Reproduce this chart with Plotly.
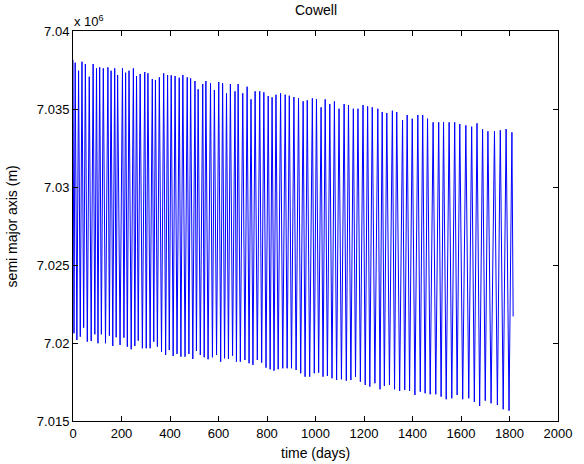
import plotly.graph_objects as go

# Peak (local maximum) times in days and values in metres
peak_days = [0, 9, 23, 37, 51, 67, 83, 97, 110, 125,
             144, 157, 172, 184, 204, 217, 231, 249, 262, 277,
             296, 309, 327, 340, 356, 374, 390, 405, 421, 438,
             453, 471, 485, 503, 516, 535, 548, 567, 583, 601,
             617, 633, 649, 668, 681, 700, 718, 734, 751, 770,
             787, 805, 821, 837, 856, 875, 892, 911, 930, 949,
             966, 987, 1004, 1023, 1040, 1059, 1078, 1097, 1118, 1136,
             1156, 1175, 1196, 1215, 1234, 1257, 1275, 1294, 1317, 1335,
             1359, 1378, 1399, 1422, 1442, 1462, 1485, 1508, 1528, 1551,
             1574, 1595, 1620, 1644, 1666, 1689, 1711, 1738, 1762, 1786,
             1810]
peak_vals = [7038140, 7037968, 7037455, 7038032, 7037885, 7037071, 7037885, 7037609, 7037673, 7037609,
             7037673, 7037455, 7037609, 7037180, 7037609, 7037327, 7037455, 7037609, 7037115, 7037244,
             7037372, 7037289, 7036923, 7036859, 7037032, 7037289, 7037180, 7037160, 7037115, 7037007,
             7037180, 7037032,
             7036968, 7036795, 7036263, 7036603, 7036795, 7036648, 7036218, 7036731, 7036648, 7036007,
             7036603, 7036135, 7036603, 7036007, 7036430, 7035622, 7036135, 7036135, 7036071, 7035833,
             7035750, 7035917, 7036007, 7035917, 7035853, 7035769, 7035686, 7035494, 7035558,
             7035686, 7035622, 7035109, 7035622, 7035321, 7035494, 7035019, 7035321, 7035257, 7035019,
             7035019, 7035257, 7035173, 7035109, 7035019, 7034808, 7034744, 7034891, 7034808, 7034295,
             7034616, 7034378, 7034616, 7034616, 7034378,
             7034148, 7034148, 7034148, 7034148, 7034148, 7034039, 7033955, 7033866, 7034084, 7033699,
             7033571, 7033571, 7033635, 7033718, 7033507]

# Trough (local minimum) times in days and values in metres
trough_days = [4, 16, 30, 44, 59, 75, 90, 103, 117, 134,
               150, 164, 178, 194, 210, 224, 240, 255, 269, 286,
               302, 318, 333, 348, 365, 382, 397, 413, 429, 445,
               462, 478, 494, 509, 525, 541, 557, 575, 592, 609,
               625, 641, 658, 674, 690, 709, 726, 742, 760, 778,
               796, 813, 829, 846, 865, 883, 901, 920, 939, 957,
               976, 995, 1013, 1031, 1049, 1068, 1087, 1107, 1127, 1146,
               1165, 1185, 1205, 1224, 1245, 1266, 1284, 1305, 1326, 1347,
               1368, 1388, 1410, 1432, 1452, 1473, 1496, 1518, 1539, 1562,
               1584, 1607, 1632, 1655, 1677, 1700, 1724, 1750, 1774, 1798]
trough_vals = [7020622, 7020193, 7020405, 7020982, 7020084, 7020129, 7020558, 7019982, 7020558, 7019982,
               7020469, 7019808, 7020366, 7019873, 7020341, 7019764, 7019597, 7019808, 7020148, 7019661,
               7019661, 7019661, 7020084, 7019764, 7019443, 7019232, 7019552, 7019167, 7019296, 7019123,
               7019123, 7019296, 7018975, 7019488, 7019232, 7019084, 7018956, 7019084, 7019232, 7018802,
               7019020, 7018975, 7019187, 7018802, 7018802, 7018911, 7018700, 7018591,
               7018911, 7018738, 7018418, 7018315, 7018225, 7018315, 7018379, 7018379, 7018379, 7018270,
               7018059, 7017841, 7017841, 7018059, 7018097, 7017841, 7017885, 7017738, 7017629, 7017674,
               7017584, 7017629, 7017841, 7017520, 7017309, 7017200, 7017418, 7017033, 7017244, 7017309,
               7017033, 7016924, 7016988, 7016924, 7016668, 7016879, 7016777, 7016712, 7016712, 7016559,
               7016392, 7016456, 7016668, 7016392, 7016456, 7016219, 7015962, 7016302, 7016136, 7016027,
               7015751, 7015661]

end_day = 1815
end_val = 7021700

x_ticks = [0, 200, 400, 600, 800, 1000, 1200, 1400, 1600, 1800, 2000]
y_ticks = [7015000, 7020000, 7025000, 7030000, 7035000, 7040000]
y_tick_labels = ["7.015", "7.02", "7.025", "7.03", "7.035", "7.04"]

# Build the line by interleaving peaks and troughs
xs, ys = [], []
for i in range(len(trough_days)):
    xs += [peak_days[i], trough_days[i]]
    ys += [peak_vals[i], trough_vals[i]]
xs += [peak_days[-1], end_day]
ys += [peak_vals[-1], end_val]

FONT = "Liberation Sans, Arial, sans-serif"
TICK_SIZE = 13
LABEL_SIZE = 14

fig = go.Figure()
fig.add_trace(go.Scatter(x=xs, y=ys, mode="lines",
                         line=dict(color="#0000ff", width=1),
                         showlegend=False, hoverinfo="skip"))

axis_common = dict(showgrid=False, zeroline=False, showline=True, linecolor="black",
                   linewidth=1, mirror="ticks", ticks="inside", ticklen=5,
                   tickcolor="black", tickwidth=1,
                   tickfont=dict(family=FONT, size=TICK_SIZE, color="black"))

fig.update_xaxes(range=[0, 2000], tickvals=x_ticks,
                 ticktext=[str(v) for v in x_ticks], **axis_common)
fig.update_yaxes(range=[7015000, 7040000], tickvals=y_ticks,
                 ticktext=y_tick_labels, **axis_common)

fig.update_layout(
    width=584, height=464,
    margin=dict(l=73, r=15, t=31, b=43),
    paper_bgcolor="white", plot_bgcolor="white",
    font=dict(family=FONT, size=TICK_SIZE, color="black"),
    annotations=[
        dict(text="Cowell", x=0.5, y=1.055, xref="paper", yref="paper",
             xanchor="center", yanchor="middle", showarrow=False,
             font=dict(family=FONT, size=LABEL_SIZE, color="black")),
        dict(text="x 10<sup>6</sup>", x=-0.002, y=1.0, xref="paper", yref="paper",
             xanchor="left", yanchor="bottom", showarrow=False,
             font=dict(family=FONT, size=TICK_SIZE, color="black")),
        dict(text="time (days)", x=0.5, y=-0.082, xref="paper", yref="paper",
             xanchor="center", yanchor="middle", showarrow=False,
             font=dict(family=FONT, size=LABEL_SIZE, color="black")),
        dict(text="semi major axis (m)", x=-0.125, y=0.5, xref="paper", yref="paper",
             xanchor="center", yanchor="middle", textangle=-90, showarrow=False,
             font=dict(family=FONT, size=LABEL_SIZE, color="black")),
    ],
)

fig.write_html("out.html", config={"displayModeBar": False},
               post_script="document.body.style.margin='0px';document.body.style.overflow='hidden';")
